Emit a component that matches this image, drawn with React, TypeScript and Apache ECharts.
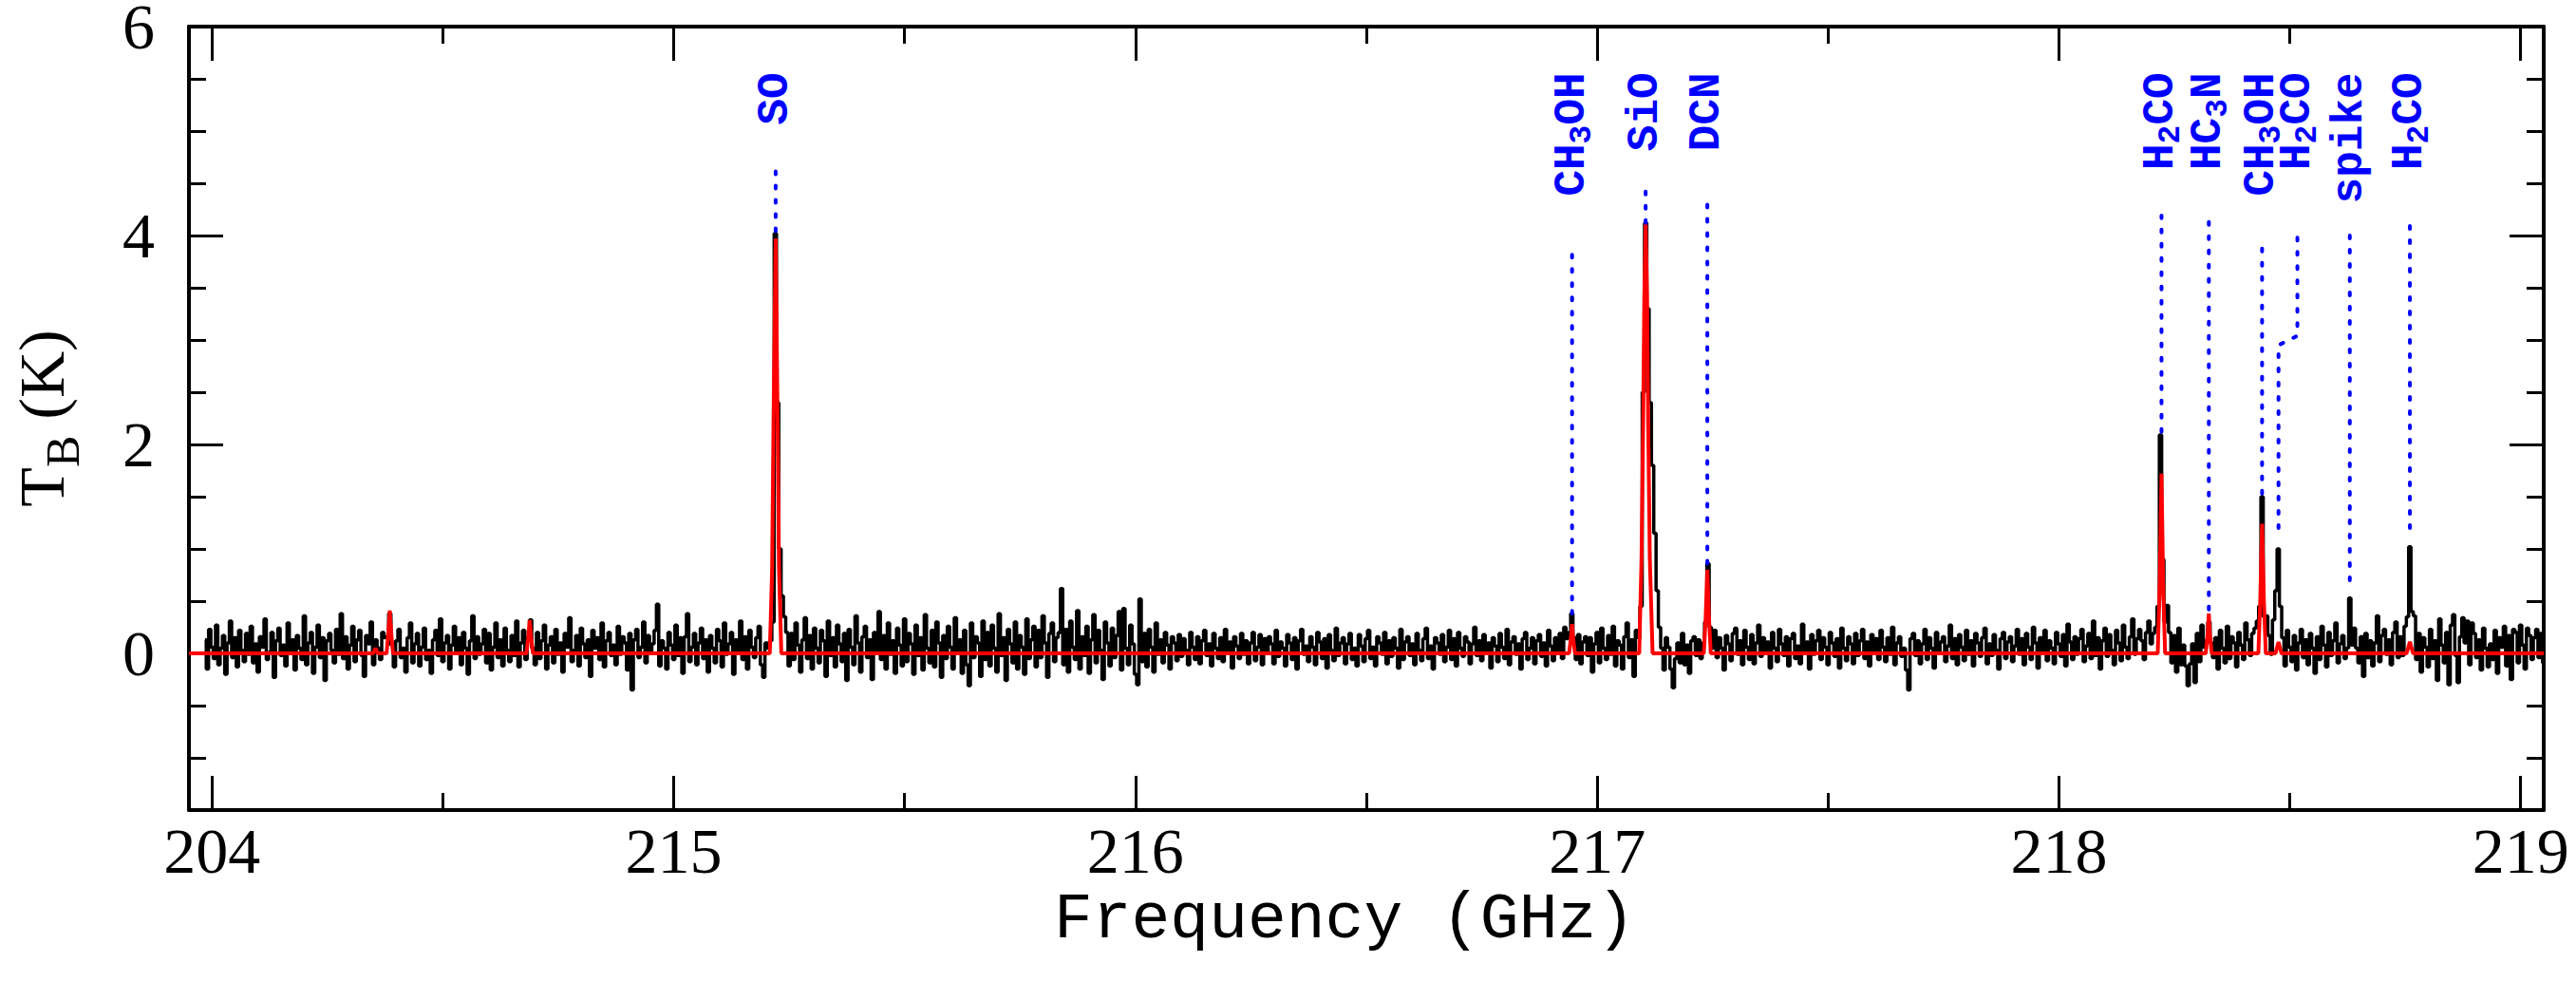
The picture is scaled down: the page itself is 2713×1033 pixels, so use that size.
import React, { useEffect, useRef } from "react";
import * as echarts from "echarts";

// ---------- axes ----------
const X_MIN = 213.95;
const X_MAX = 219.05;
const Y_MIN = -1.5;
const Y_MAX = 6;
const xMajorTicks = [214, 215, 216, 217, 218, 219];
const xTickLabels = ["204", "215", "216", "217", "218", "219"];
const xMinorTicks = [214.5, 215.5, 216.5, 217.5, 218.5];
const yMajorTicks = [0, 2, 4, 6];
const yMinorTicks = [-1, -0.5, 0.5, 1, 1.5, 2.5, 3, 3.5, 4.5, 5, 5.5];

// ---------- observed spectrum (black) ----------
const SPEC_START = 213.985; // GHz, first channel
const SPEC_STEP = 0.005; // GHz per channel
// baseline noise, in units of 0.01 K, one value per channel
const noiseCentiK = [
  13, -15, 23, 6, -5, 27, -11, 5, 17, -20, 10, 31, -4, 15, -13, 22, 3, -8, 19, -1,
  26, -9, 9, -18, 16, 6, 33, -6, 1, 20, -23, 12, 24, -2, 8, -12, 29, 2, 13, -16,
  17, 5, -6, 36, -11, 10, 20, -19, 6, 27, -4, 15, -26, 12, 19, 3, -9, 23, -1, 38,
  -5, 16, -15, 8, 26, -8, 13, 22, -2, -22, 17, 9, 30, -11, 13, 5, -6, 20, 15, 16,
  38, 8, -13, 12, 23, -4, 5, -18, 15, 29, -9, 9, 19, -12, 6, 24, -6, 3, -19, 13,
  22, -2, 33, -8, 10, 17, -15, 8, 26, 1, 15, -11, 20, 5, -20, 12, 36, -5, 16, -1,
  9, 23, -9, 19, -16, 6, 29, -4, 13, -12, 24, 3, -8, 17, -2, 31, -13, 10, 22, -6,
  15, 32, 5, -11, 20, -5, 12, 27, -15, 8, 16, -9, 23, -1, 10, -18, 19, 6, 34, -8,
  3, 17, -12, 24, 9, -4, 13, -22, 22, 5, 15, -6, 29, -13, 12, 20, -2, 8, -11, 26,
  -1, 16, 10, -16, 19, -35, 13, 23, -4, 6, 30, -9, 17, 1, 9, 22, 47, -12, 12, 5,
  -15, 20, 8, -6, 27, -2, 15, -19, 16, 38, -8, 6, 19, -11, 10, 24, -5, 13, -18, 17,
  5, -9, 23, 12, -13, 29, -1, 9, 20, -20, 13, 3, 31, -6, 16, -15, 22, 6, -4, 15,
  26, -11, -23, 10, 0, 0, 0, 0, 0, 0, 0, 0, 0, -12, 19, -6, 29, 8, -18, 13,
  34, -5, 17, -15, 24, 5, -9, 22, 12, -22, 31, -2, 15, -13, 27, 9, -8, 19, -26, 23,
  6, -11, 36, 10, -18, 16, 26, -4, 13, -25, 20, 3, 40, -6, 17, -15, 29, -1, 12, -19,
  24, 8, -12, 33, -8, 19, 9, -20, 27, -2, 15, -16, 37, 5, -9, 22, -13, 30, 10, -23,
  17, -5, 26, 6, -15, 34, 1, 13, -19, 22, -11, -31, 29, -4, 16, 10, -22, 31, -6, 20,
  -12, 27, 5, -18, 38, -2, 15, -26, 23, 9, -9, 30, -15, 17, 6, -20, 33, -5, 13, 26,
  -13, 22, -4, 36, 10, -23, 19, 29, -8, 15, 20, 62, -11, 23, -18, 31, 6, -6, 41, -15,
  16, -2, 26, -19, 13, 37, -9, 22, 3, -25, 30, 10, -12, 24, -4, 17, 40, -16, 43, 5,
  -11, 27, 9, -20, -30, 52, -8, 19, -13, 23, 6, -18, 29, -1, 13, -9, 20, 8, -15, 16,
  10, -7, 18, -3, 14, 3, -11, 20, 6, -6, 16, -10, 12, 22, -2, 9, -12, 19, 5, -5,
  15, -8, 23, 2, 11, -14, 16, 7, -5, 19, -1, 12, -10, 10, 20, -7, 6, 18, -11, 14,
  1, 16, 9, -10, 22, -3, 11, 5, -12, 18, 10, -6, 15, -15, 12, 23, -1, 7, -8, 16,
  6, -11, 20, 11, -5, 14, -14, 18, 3, -7, 24, -2, 10, 15, -10, 9, 19, -6, 5, -12,
  18, 7, -8, 14, 22, -5, 6, -12, 16, 10, -1, 20, -10, 12, -3, 15, 5, -14, 23, -6,
  11, 16, -2, 9, -11, 19, 3, -7, 14, 24, -5, 7, -15, 15, 10, -1, 18, -8, 6, 22,
  -6, 14, -12, 20, 5, -3, 16, 11, -10, 9, 25, -2, 12, -7, 18, 1, 10, -14, 15, 7,
  -8, 19, 6, -5, 23, -11, 11, 16, -1, 9, -15, 14, 20, -6, 5, 15, -10, 12, 18, -3,
  10, -12, 22, 7, -7, 15, 3, 19, -5, 25, 14, 0, 0, 0, -6, 18, -10, 11, 16, -2,
  15, -18, 9, 20, -9, 24, 5, -6, 17, -1, 26, -12, 12, 8, -15, 16, 29, -4, 13, -22,
  22, 0, 0, 0, 0, 0, 0, 0, 0, 0, 0, 0, -16, 15, 6, -15, -33, -5, 10, -9,
  19, -11, 8, -19, 12, 16, -2, 13, -5, 0, 0, 0, 0, 0, 22, -4, 15, 5, -16, 17,
  9, -7, 19, 24, -1, 12, -11, 22, 6, -6, 18, -10, 10, 27, -3, 15, 1, 11, -14, 20,
  5, -8, 23, 9, -2, 16, -12, 14, 19, -5, 7, -10, 28, 3, 11, -15, 18, -1, 12, 22,
  -6, 15, 6, -11, 20, 10, -3, 14, -14, 24, 5, -7, 16, 9, -10, 19, -2, 12, 23, -5,
  11, -12, 18, 2, 14, -6, 22, 6, -8, 15, -1, 25, -11, 10, 16, -3, 5, -16, -35, 14,
  19, -2, 12, -10, 9, 23, -6, 15, 5, -14, 20, 1, 11, 16, -8, 7, 27, -5, 14, -11,
  18, 6, -7, 22, -1, 12, -12, 19, 10, -3, 15, 24, -10, 9, -2, 18, 3, -15, 14, 20,
  -5, 11, 16, -8, 7, 23, -1, 14, -11, 19, 6, -6, 25, 10, -14, 15, 1, 22, -7, 12,
  5, -10, 20, 9, -3, 18, -12, 28, 11, -6, 16, -1, 14, 23, -8, 7, 19, -5, 31, -2,
  15, -15, 12, 24, -3, 18, 3, -11, 22, 10, -7, 27, 6, -5, 16, 33, -1, 14, 23, 12,
  -6, 20, 31, 9, 19, 0, 0, 0, 0, 0, 0, 0, -9, 17, -18, 24, -11, 8, -12, -31,
  -10, 9, -28, 19, -8, 27, 6, 0, 0, 0, -4, 15, -15, 22, 5, -9, 26, -5, 16, 10,
  -13, 20, 8, -6, 29, 13, -2, 19, 24, 31, 0, 0, 0, 36, 17, -1, 32, 0, 0, 0,
  15, -12, 22, 6, -8, 17, -16, 10, 23, -4, 13, -11, 19, 5, -19, 16, -6, 26, 8, -13,
  20, -2, 12, 29, -9, 9, 17, -5, 0, 0, 0, 24, 5, -9, 16, -22, 19, -4, 12, -12,
  10, 36, -8, 17, 23, -1, 13, -11, 20, 30, -4, 16, -2, 26, 0, 0, 0, 36, -6, 19,
  -18, 15, 6, -13, 23, -5, 12, -26, 33, 8, -9, 20, -30, 27, 37, -2, -28, 16, 34, 10,
  31, -11, 29, 19, -4, 13, -16, 24, 5, -13, 9, -6, 22, -19, 15, 6, 26, -12, 17, -25,
  23, 20, -9, 27, 8, -15, 24, 17, -6, 15, 23, -4, 19, -9,
];
// emission lines in the observed spectrum: first channel frequency and channel values (K)
const lineStartGHz = [215.205, 216.94, 217.09, 217.23, 218.21, 218.32, 218.435, 218.47, 218.625, 218.755];
const lineChannelsK = [
  [0.05, 0.12, 0.3, 4.02, 2.4, 1.0, 0.55, 0.35, 0.2],
  [0.2, 0.38, 0.15],
  [0.15, 0.45, 2.5, 4.12, 3.3, 2.4, 1.8, 1.15, 0.6, 0.25, 0.05],
  [0.1, 0.3, 0.86, 0.25, 0.05],
  [0.25, 0.45, 2.09, 0.9, 0.3, 0.46, 0.2],
  [0.12, 0.3, 0.1],
  [0.45, 1.5, 0.35],
  [0.6, 1.0, 0.45],
  [0.05, 0.53, 0.08],
  [0.35, 1.02, 0.4],
];

// ---------- model fit (red) ----------
const modelGHz = [
  213.95,
  214.349, 214.354, 214.359,
  214.378, 214.382, 214.385, 214.388, 214.392,
  214.681, 214.685, 214.688, 214.691, 214.695,
  215.208, 215.213, 215.216, 215.2207, 215.225, 215.228, 215.233,
  216.939, 216.943, 216.9456, 216.948, 216.952,
  217.091, 217.096, 217.0995, 217.102, 217.105, 217.108, 217.1105, 217.114, 217.12,
  217.231, 217.235, 217.2385, 217.242, 217.246,
  218.214, 218.218, 218.2222, 218.226, 218.23,
  218.318, 218.322, 218.3247, 218.327, 218.331,
  218.432, 218.436, 218.44, 218.444, 218.448,
  218.469, 218.4756, 218.482,
  218.753, 218.7601, 218.767,
  219.05,
];
const modelK = [
  0,
  0, 0.05, 0,
  0, 0.2, 0.41, 0.2, 0,
  0, 0.16, 0.32, 0.16, 0,
  0, 0.8, 2.2, 3.97, 2.2, 0.8, 0,
  0, 0.14, 0.28, 0.14, 0,
  0, 0.9, 2.2, 3.4, 4.12, 3.4, 2.2, 0.9, 0,
  0, 0.35, 0.8, 0.35, 0,
  0, 0.6, 1.72, 0.6, 0,
  0, 0.18, 0.38, 0.18, 0,
  0, 0.5, 1.24, 0.5, 0,
  0, 0.11, 0,
  0, 0.11, 0,
  0,
];

// ---------- line identifications (blue) ----------
const annotLabels = [
  "{n|SO}",
  "{n|CH}{s|3}{n|OH}",
  "{n|SiO}",
  "{n|DCN}",
  "{n|H}{s|2}{n|CO}",
  "{n|HC}{s|3}{n|N}",
  "{n|CH}{s|3}{n|OH}",
  "{n|H}{s|2}{n|CO}",
  "{n|spike}",
  "{n|H}{s|2}{n|CO}",
];
const annotLineGHz = [215.2207, 216.9456, 217.1049, 217.2385, 218.2222, 218.3247, 218.44, 218.4756, 218.63, 218.7601];
const annotLabelGHz = [215.2207, 216.9456, 217.1049, 217.2385, 218.2222, 218.3247, 218.44, 218.5165, 218.63, 218.7601];
const annotTopK = [4.65, 3.84, 4.47, 4.34, 4.19, 4.17, 3.92, 4.02, 4.1, 4.1];
const annotBottomK = [4.04, 0.38, 4.12, 0.86, 2.12, 0.42, 1.53, 1.2, 0.7, 1.2];
const KINK_LOW_K = 2.95;
const KINK_HIGH_K = 3.04;
const LABEL_END_K = 5.56;

const serif = "'Liberation Serif', 'Times New Roman', serif";
const mono = "'Courier New', 'Liberation Mono', monospace";
const BLUE = "#0000ff";

function buildSpectrum() {
  const vals = noiseCentiK.map((v) => v / 100);
  lineStartGHz.forEach((f, k) => {
    const i0 = Math.round((f - SPEC_START) / SPEC_STEP);
    lineChannelsK[k].forEach((v, j) => {
      vals[i0 + j] = v;
    });
  });
  return vals.map((v, i) => [+(SPEC_START + i * SPEC_STEP).toFixed(4), v]);
}

function annotPoints(k: number) {
  const fl = annotLineGHz[k];
  const fx = annotLabelGHz[k];
  if (fl === fx) {
    return [
      [fl, annotBottomK[k]],
      [fl, annotTopK[k]],
    ];
  }
  return [
    [fl, annotBottomK[k]],
    [fl, KINK_LOW_K],
    [fx, KINK_HIGH_K],
    [fx, annotTopK[k]],
  ];
}

function fmtX(v: number) {
  const idx = xMajorTicks.findIndex((t) => Math.abs(t - v) < 1e-6);
  return idx >= 0 ? xTickLabels[idx] : "";
}

function xAxisDef(position: string, major: boolean, withLine: boolean, labels: boolean) {
  return {
    type: "value",
    min: X_MIN,
    max: X_MAX,
    position,
    axisLine: { show: withLine, onZero: false, lineStyle: { color: "#000", width: 4 } },
    axisTick: {
      show: true,
      inside: true,
      length: major ? 36 : 18,
      customValues: major ? xMajorTicks : xMinorTicks,
      lineStyle: { color: "#000", width: 3 },
    },
    axisLabel: labels
      ? {
          show: true,
          customValues: xMajorTicks,
          formatter: fmtX,
          margin: 15,
          color: "#000",
          fontSize: 68,
          lineHeight: 56,
          fontFamily: serif,
        }
      : { show: false },
    splitLine: { show: false },
  } as any;
}

function yAxisDef(position: string, major: boolean, withLine: boolean, labels: boolean) {
  return {
    type: "value",
    min: Y_MIN,
    max: Y_MAX,
    position,
    axisLine: { show: withLine, onZero: false, lineStyle: { color: "#000", width: 4 } },
    axisTick: {
      show: true,
      inside: true,
      length: major ? 36 : 18,
      customValues: major ? yMajorTicks : yMinorTicks,
      lineStyle: { color: "#000", width: 3 },
    },
    axisLabel: labels
      ? {
          show: true,
          customValues: yMajorTicks,
          margin: 36,
          color: "#000",
          fontSize: 68,
          lineHeight: 50,
          fontFamily: serif,
        }
      : { show: false },
    splitLine: { show: false },
  } as any;
}

export default function App() {
  const ref = useRef<HTMLDivElement>(null);

  useEffect(() => {
    if (!ref.current) return;
    const chart = echarts.init(ref.current, null, { renderer: "svg" });

    const xAxes = [
      xAxisDef("bottom", true, true, true),
      xAxisDef("bottom", false, false, false),
      xAxisDef("top", true, true, false),
      xAxisDef("top", false, false, false),
    ];
    xAxes[0].name = "Frequency (GHz)";
    xAxes[0].nameLocation = "middle";
    xAxes[0].nameGap = 72;
    xAxes[0].nameTextStyle = {
      fontFamily: mono,
      fontSize: 68,
      color: "#000",
      padding: [0, 46, 0, 0],
    };

    const yAxes = [
      yAxisDef("left", true, true, true),
      yAxisDef("left", false, false, false),
      yAxisDef("right", true, true, false),
      yAxisDef("right", false, false, false),
    ];
    yAxes[0].name = "{t|T}{b|B}{t| (K)}";
    yAxes[0].nameLocation = "middle";
    yAxes[0].nameRotate = 90;
    yAxes[0].nameGap = 121;
    yAxes[0].nameTextStyle = {
      color: "#000",
      rich: {
        t: { fontFamily: serif, fontSize: 68, lineHeight: 68, verticalAlign: "top", color: "#000" },
        b: {
          fontFamily: serif,
          fontSize: 50,
          lineHeight: 50,
          padding: [31, 0, 0, 0],
          verticalAlign: "top",
          color: "#000",
        },
      },
    };

    const modelData = modelGHz.map((f, i) => [f, modelK[i]]);

    const annotSeries = annotLabels.map((_, k) => ({
      type: "line",
      xAxisIndex: 0,
      yAxisIndex: 0,
      data: annotPoints(k),
      showSymbol: false,
      symbol: "none",
      silent: true,
      z: 4,
      lineStyle: { color: BLUE, width: 4, type: [3, 12], cap: "round" },
    }));

    chart.setOption({
      animation: false,
      backgroundColor: "#fff",
      grid: { left: 199, right: 34, top: 28, bottom: 180, containLabel: false, outerBoundsMode: "none" },
      xAxis: xAxes,
      yAxis: yAxes,
      series: [
        {
          type: "line",
          xAxisIndex: 0,
          yAxisIndex: 0,
          data: buildSpectrum(),
          step: "middle",
          showSymbol: false,
          symbol: "none",
          silent: true,
          z: 2,
          lineStyle: { color: "#000", width: 3.5 },
        },
        {
          type: "line",
          xAxisIndex: 0,
          yAxisIndex: 0,
          data: modelData,
          showSymbol: false,
          symbol: "none",
          silent: true,
          z: 3,
          lineStyle: { color: "#ff0000", width: 4 },
        },
        ...annotSeries,
      ],
    } as any);

    const tokenN = { fontFamily: mono, fontWeight: "bold", fontSize: 46, lineHeight: 46, verticalAlign: "top", fill: BLUE };
    const tokenS = {
      fontFamily: mono,
      fontWeight: "bold",
      fontSize: 33,
      lineHeight: 33,
      padding: [17, 0, 0, 0],
      verticalAlign: "top",
      fill: BLUE,
    };
    const graphics = annotLabels.map((txt, k) => {
      const p = chart.convertToPixel({ xAxisIndex: 0, yAxisIndex: 0 } as any, [annotLabelGHz[k], LABEL_END_K]) as number[];
      return {
        type: "text",
        x: p[0],
        y: p[1],
        rotation: Math.PI / 2,
        silent: true,
        z: 10,
        style: {
          text: txt,
          align: "right",
          verticalAlign: "middle",
          fill: BLUE,
          rich: { n: tokenN, s: tokenS },
        },
      };
    });
    chart.setOption({ graphic: graphics } as any);

    return () => {
      chart.dispose();
    };
  }, []);

  return (
    <div
      ref={ref}
      style={{ position: "absolute", left: 0, top: 0, width: 2713, height: 1033, background: "#fff" }}
    />
  );
}
